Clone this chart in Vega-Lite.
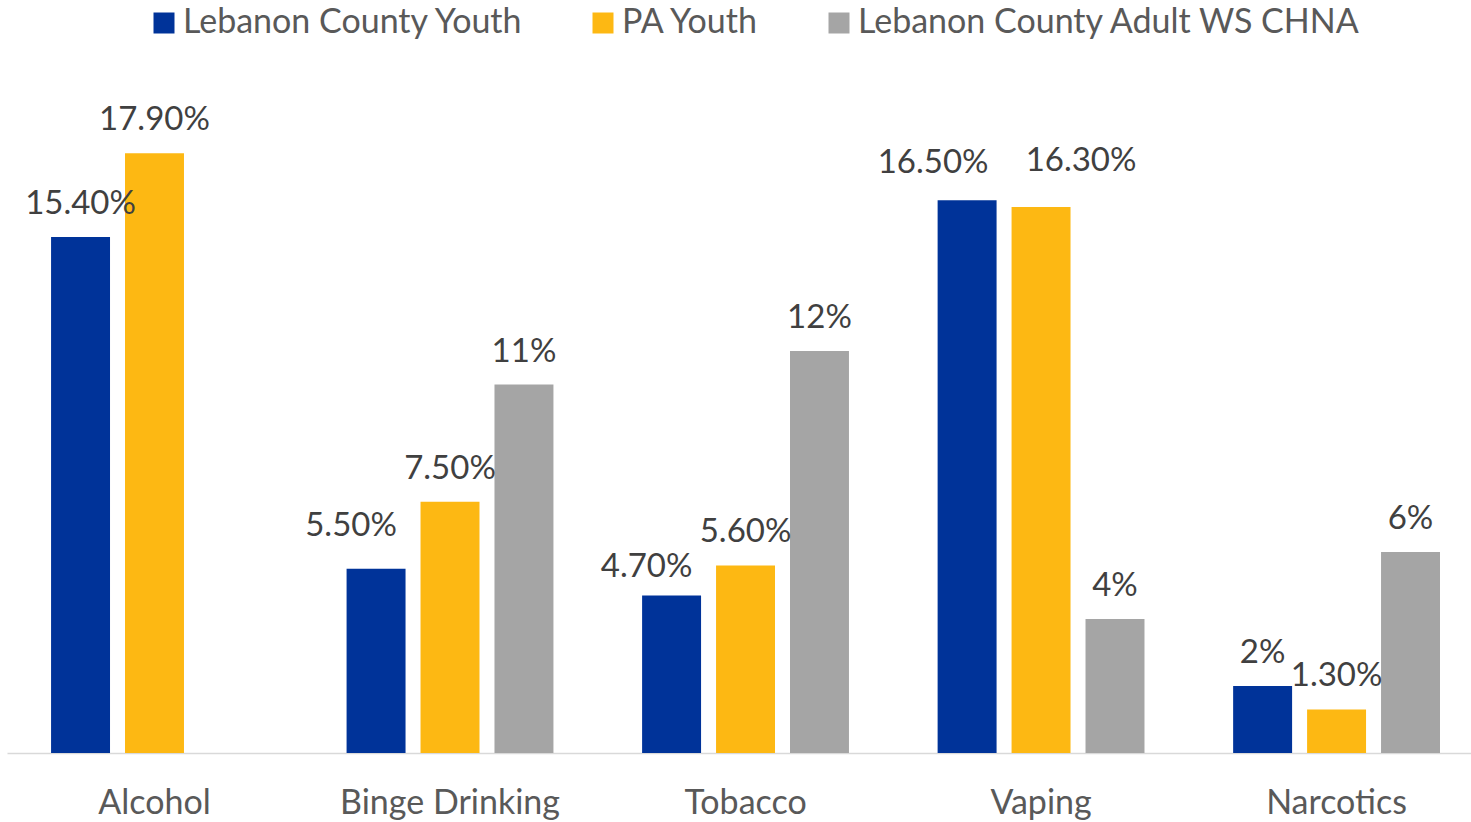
{
  "$schema": "https://vega.github.io/schema/vega-lite/v6.json",
  "width": 1464,
  "height": 670,
  "autosize": {"type": "none"},
  "padding": {"left": 7, "top": 83, "right": 0, "bottom": 69},
  "background": "white",
  "config": {"view": {"stroke": null}, "font": "Lato"},
  "data": {
    "values": [
      {"Category": "Alcohol", "Series": "Lebanon County Youth", "Value": 15.4, "Label": "15.40%"},
      {"Category": "Alcohol", "Series": "PA Youth", "Value": 17.9, "Label": "17.90%"},
      {"Category": "Binge Drinking", "Series": "Lebanon County Youth", "Value": 5.5, "Label": "5.50%"},
      {"Category": "Binge Drinking", "Series": "PA Youth", "Value": 7.5, "Label": "7.50%"},
      {"Category": "Binge Drinking", "Series": "Lebanon County Adult WS CHNA", "Value": 11, "Label": "11%"},
      {"Category": "Tobacco", "Series": "Lebanon County Youth", "Value": 4.7, "Label": "4.70%"},
      {"Category": "Tobacco", "Series": "PA Youth", "Value": 5.6, "Label": "5.60%"},
      {"Category": "Tobacco", "Series": "Lebanon County Adult WS CHNA", "Value": 12, "Label": "12%"},
      {"Category": "Vaping", "Series": "Lebanon County Youth", "Value": 16.5, "Label": "16.50%"},
      {"Category": "Vaping", "Series": "PA Youth", "Value": 16.3, "Label": "16.30%"},
      {"Category": "Vaping", "Series": "Lebanon County Adult WS CHNA", "Value": 4, "Label": "4%"},
      {"Category": "Narcotics", "Series": "Lebanon County Youth", "Value": 2, "Label": "2%"},
      {"Category": "Narcotics", "Series": "PA Youth", "Value": 1.3, "Label": "1.30%"},
      {"Category": "Narcotics", "Series": "Lebanon County Adult WS CHNA", "Value": 6, "Label": "6%"}
    ]
  },
  "encoding": {
    "x": {
      "field": "Category",
      "type": "nominal",
      "sort": ["Alcohol", "Binge Drinking", "Tobacco", "Vaping", "Narcotics"],
      "scale": {"paddingInner": 0.3, "paddingOuter": 0.127, "align": 0.587},
      "axis": {
        "title": null,
        "labelAngle": 0,
        "ticks": false,
        "domainColor": "#D9D9D9",
        "domainWidth": 1.5,
        "labelFontSize": 34,
        "labelColor": "#595959",
        "labelPadding": 33,
        "labelLimit": 400
      }
    },
    "xOffset": {
      "field": "Series",
      "type": "nominal",
      "scale": {
        "domain": ["Lebanon County Youth", "PA Youth", "Lebanon County Adult WS CHNA"],
        "paddingInner": 0.2027,
        "paddingOuter": 0
      }
    },
    "y": {
      "field": "Value",
      "type": "quantitative",
      "scale": {"domain": [0, 20], "nice": false},
      "axis": null
    }
  },
  "layer": [
    {
      "mark": {"type": "bar"},
      "encoding": {
        "color": {
          "field": "Series",
          "type": "nominal",
          "scale": {
            "domain": ["Lebanon County Youth", "PA Youth", "Lebanon County Adult WS CHNA"],
            "range": ["#003399", "#FDB813", "#A5A5A5"]
          },
          "legend": {
            "title": null,
            "orient": "none",
            "direction": "horizontal",
            "legendX": 140,
            "legendY": -77,
            "symbolType": "square",
            "symbolSize": 441,
            "symbolStrokeWidth": 0,
            "labelFontSize": 34,
            "labelColor": "#595959",
            "labelOffset": 2,
            "columnPadding": 62,
            "labelLimit": 700
          }
        }
      }
    },
    {
      "transform": [{"filter": "!((datum.Category == 'Binge Drinking' || datum.Category == 'Tobacco' || datum.Category == 'Vaping') && datum.Series == 'Lebanon County Youth') && !(datum.Category == 'Vaping' && datum.Series == 'PA Youth')"}],
      "mark": {"type": "text", "dy": -33, "baseline": "middle", "fontSize": 33, "color": "#404040"},
      "encoding": {"text": {"field": "Label"}}
    },
    {
      "transform": [{"filter": "datum.Category == 'Binge Drinking' && datum.Series == 'Lebanon County Youth'"}],
      "mark": {"type": "text", "dx": -25, "dy": -43, "baseline": "middle", "fontSize": 33, "color": "#404040"},
      "encoding": {"text": {"field": "Label"}}
    },
    {
      "transform": [{"filter": "datum.Category == 'Tobacco' && datum.Series == 'Lebanon County Youth'"}],
      "mark": {"type": "text", "dx": -25, "dy": -29, "baseline": "middle", "fontSize": 33, "color": "#404040"},
      "encoding": {"text": {"field": "Label"}}
    },
    {
      "transform": [{"filter": "datum.Category == 'Vaping' && datum.Series == 'Lebanon County Youth'"}],
      "mark": {"type": "text", "dx": -34, "dy": -37, "baseline": "middle", "fontSize": 33, "color": "#404040"},
      "encoding": {"text": {"field": "Label"}}
    },
    {
      "transform": [{"filter": "datum.Category == 'Vaping' && datum.Series == 'PA Youth'"}],
      "mark": {"type": "text", "dx": 40, "dy": -46, "baseline": "middle", "fontSize": 33, "color": "#404040"},
      "encoding": {"text": {"field": "Label"}}
    }
  ]
}
